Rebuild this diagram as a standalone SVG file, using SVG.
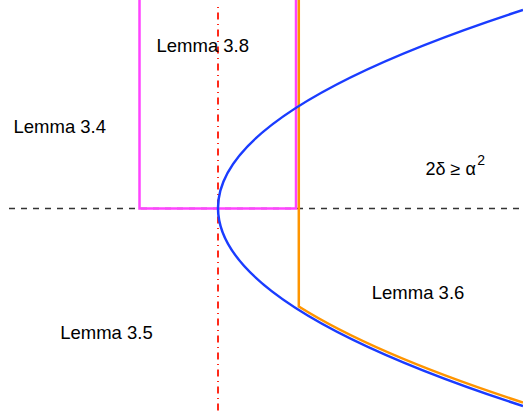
<svg xmlns="http://www.w3.org/2000/svg" width="523" height="415" viewBox="0 0 523 415">
<style>
.lbl{font-family:"Liberation Sans",Arial,Helvetica,sans-serif;font-size:18.5px;fill:#000}
.math{font-family:"Liberation Sans",Arial,Helvetica,sans-serif;font-size:18px;fill:#000}
.ln{fill:none;stroke-linejoin:miter}
</style>
<rect width="523" height="415" fill="#fff"/>
<g id="connectors">
<line id="axis" x1="9" y1="208.5" x2="523" y2="208.5" stroke="#333" stroke-width="1.3" stroke-dasharray="6 6"/>
<line id="vertical-axis" x1="218" y1="7" x2="218" y2="415" stroke="#ff2a1a" stroke-width="2" stroke-dasharray="1 4.5 7 4.5"/>
<path id="magenta-region" class="ln" d="M139.5,0 L139.5,208.5 L296,208.5 L296,0" stroke="#ff44ff" stroke-width="2.5"/>
<path id="orange-boundary" class="ln" d="M298.8,0 L298.8,306.5 Q375.1,354.5 523,402.5" stroke="#ff9500" stroke-width="2.5"/>
<path id="parabola" class="ln" d="M523,10 Q-87,208 523,406" stroke="#1a3cff" stroke-width="2.5"/>
</g>
<g id="lemma-3-8"><text class="lbl" x="156.5" y="51.5">Lemma 3.8</text></g>
<g id="lemma-3-4"><text class="lbl" x="13.5" y="133">Lemma 3.4</text></g>
<g id="lemma-3-5"><text class="lbl" x="60.2" y="339">Lemma 3.5</text></g>
<g id="lemma-3-6"><text class="lbl" x="371.8" y="299">Lemma 3.6</text></g>
<g id="condition"><text class="math" x="425.5" y="175">2δ ≥ α<tspan font-size="14" dx="1.5" dy="-10">2</tspan></text></g>
</svg>
